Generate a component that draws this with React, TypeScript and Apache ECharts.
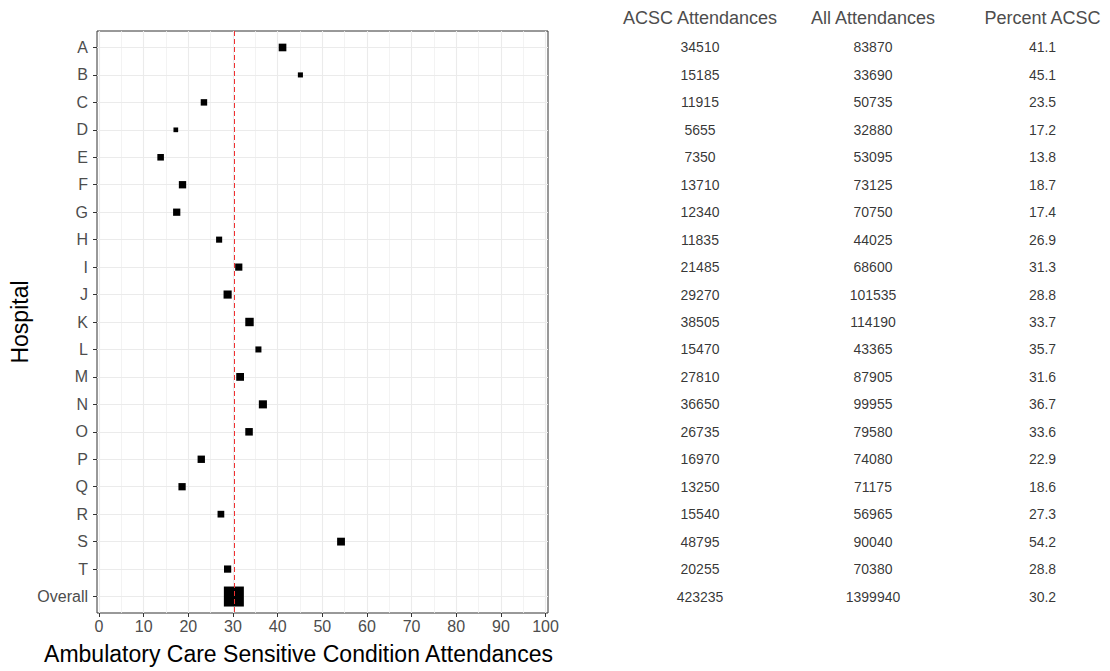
import React, { useEffect, useRef } from "react";
import * as echarts from "echarts";

const hospitals = ["A","B","C","D","E","F","G","H","I","J","K","L","M","N","O","P","Q","R","S","T","Overall"];
const acscAttendances = [34510,15185,11915,5655,7350,13710,12340,11835,21485,29270,38505,15470,27810,36650,26735,16970,13250,15540,48795,20255,423235];
const allAttendances = [83870,33690,50735,32880,53095,73125,70750,44025,68600,101535,114190,43365,87905,99955,79580,74080,71175,56965,90040,70380,1399940];
const percentAcsc = [41.1,45.1,23.5,17.2,13.8,18.7,17.4,26.9,31.3,28.8,33.7,35.7,31.6,36.7,33.6,22.9,18.6,27.3,54.2,28.8,30.2];
const xTicks = [0,10,20,30,40,50,60,70,80,90,100];
const xMinorTicks = [5,15,25,35,45,55,65,75,85,95];
const tableHeaders = ["ACSC Attendances", "All Attendances", "Percent ACSC"];

const FONT = "'Liberation Sans', Arial, Helvetica, sans-serif";

export default function App() {
  const ref = useRef<HTMLDivElement>(null);
  useEffect(() => {
    if (!ref.current) return;
    const chart = echarts.init(ref.current, null, { renderer: "svg" });
    const idx = hospitals.map((_, i) => i);
    const minW = Math.min(...allAttendances);
    const maxW = Math.max(...allAttendances);
    const sizeOf = (v: number) => 4.7 + 15.3 * Math.sqrt((v - minW) / (maxW - minW));
    const overallPct = percentAcsc[percentAcsc.length - 1];

    const tableCols = [
      acscAttendances.map((v) => String(v)),
      allAttendances.map((v) => String(v)),
      percentAcsc.map((v) => v.toFixed(1)),
    ];
    const colCenters = [700, 873, 1045];

    const yBase = {
      type: "value" as const,
      inverse: true,
      min: -0.6,
      max: 20.6,
    };

    const grids: any[] = [
      { left: 97, top: 31, width: 451, height: 582, show: true, borderColor: "#333333", borderWidth: 1, backgroundColor: "#ffffff" },
    ];
    const xAxes: any[] = [
      {
        type: "value",
        gridIndex: 0,
        min: -0.45,
        max: 100.55,
        position: "bottom",
        axisLine: { show: false, onZero: false },
        splitLine: { show: false },
        axisTick: { show: true, customValues: xTicks, length: 4, lineStyle: { color: "#333333", width: 1 } },
        axisLabel: { customValues: xTicks, color: "#4d4d4d", fontSize: 16, fontFamily: FONT, margin: 5 },
        name: "Ambulatory Care Sensitive Condition Attendances",
        nameLocation: "middle",
        nameGap: 29,
        nameTextStyle: { color: "#000000", fontSize: 23, fontFamily: FONT, padding: [0, 48, 0, 0] },
      },
    ];
    const yAxes: any[] = [
      {
        ...yBase,
        gridIndex: 0,
        position: "left",
        axisLine: { show: false, onZero: false },
        splitLine: { show: false },
        axisTick: { show: true, customValues: idx, length: 4, lineStyle: { color: "#333333", width: 1 } },
        axisLabel: {
          customValues: idx,
          color: "#4d4d4d",
          fontSize: 16,
          fontFamily: FONT,
          margin: 9,
          formatter: (v: number) => hospitals[Math.round(v)] ?? "",
        },
        name: "Hospital",
        nameLocation: "middle",
        nameGap: 66,
        nameTextStyle: { color: "#000000", fontSize: 23, fontFamily: FONT },
      },
    ];

    const series: any[] = [
      {
        type: "scatter",
        xAxisIndex: 0,
        yAxisIndex: 0,
        data: [],
        silent: true,
        z: 0,
        markLine: {
          silent: true,
          symbol: "none",
          z: 0,
          label: { show: false },
          animation: false,
          data: [
            ...xMinorTicks.map((v) => ({ xAxis: v, lineStyle: { color: "#f0f0f0", width: 0.8, type: "solid" } })),
            ...xTicks.map((v) => ({ xAxis: v, lineStyle: { color: "#ebebeb", width: 1.1, type: "solid" } })),
            ...idx.map((v) => ({ yAxis: v, lineStyle: { color: "#ebebeb", width: 1.1, type: "solid" } })),
          ],
        },
      },
      {
        type: "scatter",
        xAxisIndex: 0,
        yAxisIndex: 0,
        z: 3,
        symbol: "rect",
        data: hospitals.map((_, i) => [percentAcsc[i], i, allAttendances[i]]),
        symbolSize: (val: number[]) => sizeOf(val[2]),
        itemStyle: { color: "#000000", opacity: 1 },
      },
      {
        type: "scatter",
        xAxisIndex: 0,
        yAxisIndex: 0,
        data: [],
        silent: true,
        z: 10,
        markLine: {
          silent: true,
          symbol: "none",
          z: 10,
          label: { show: false },
          animation: false,
          data: [{ xAxis: overallPct }],
          lineStyle: { color: "#f03030", width: 1, type: [5, 3] },
        },
      },
    ];

    tableCols.forEach((col, c) => {
      const gi = c + 1;
      grids.push({ left: colCenters[c] - 70, top: 31, width: 140, height: 582 });
      xAxes.push({
        type: "value",
        gridIndex: gi,
        min: 0,
        max: 1,
        position: "top",
        axisLine: { show: false, onZero: false },
        axisTick: { show: false },
        axisLabel: { show: false },
        splitLine: { show: false },
        name: tableHeaders[c],
        nameLocation: "middle",
        nameGap: 4,
        nameTextStyle: { color: "#4d4d4d", fontSize: 18, fontFamily: FONT },
      });
      yAxes.push({
        ...yBase,
        gridIndex: gi,
        axisLine: { show: false, onZero: false },
        axisTick: { show: false },
        axisLabel: { show: false },
        splitLine: { show: false },
      });
      series.push({
        type: "scatter",
        xAxisIndex: gi,
        yAxisIndex: gi,
        symbolSize: 1,
        itemStyle: { color: "rgba(0,0,0,0)" },
        data: col.map((v, i) => [0.5, i, v]),
        label: {
          show: true,
          position: "inside",
          formatter: (p: any) => p.value[2],
          color: "#000000",
          fontSize: 14,
          fontFamily: FONT,
        },
      });
    });

    chart.setOption({
      animation: false,
      backgroundColor: "#ffffff",
      grid: grids,
      xAxis: xAxes,
      yAxis: yAxes,
      series,
    });
    return () => chart.dispose();
  }, []);
  return <div ref={ref} style={{ position: "fixed", left: 0, top: 0, width: 1110, height: 671 }} />;
}
